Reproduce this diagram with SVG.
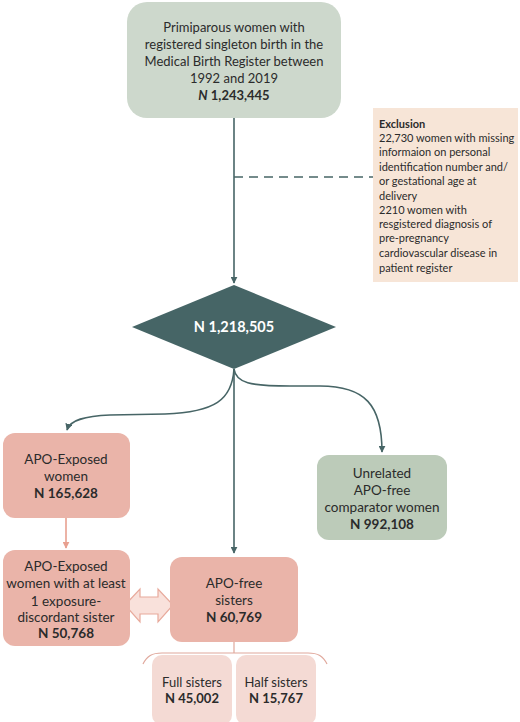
<svg xmlns="http://www.w3.org/2000/svg" width="520" height="722" viewBox="0 0 520 722">
<defs>
<style>
text{font-family:Lato,"Open Sans","Liberation Sans",sans-serif;fill:#2b2b2b;text-anchor:middle}
.b{font-weight:bold}
.t13{font-size:13px}
.t14{font-size:13.5px}
.ex{font-size:11px;text-anchor:start}
.sage{fill:#cdd8cc}
.sage2{fill:#bccbb9}
.salmon{fill:#eab4a9}
.light{fill:#f4dad4}
.conn{fill:none;stroke:#476566;stroke-width:1.6}
</style>
<marker id="ah" viewBox="0 0 10 10" refX="9" refY="5" markerWidth="7" markerHeight="7" orient="auto" markerUnits="userSpaceOnUse">
<path d="M0,0 L10,5 L0,10 z" fill="#476566"/>
</marker>
<marker id="ahs" viewBox="0 0 10 10" refX="9" refY="5" markerWidth="7" markerHeight="7" orient="auto" markerUnits="userSpaceOnUse">
<path d="M0,0 L10,5 L0,10 z" fill="#e8a090"/>
</marker>
</defs>
<rect width="520" height="722" fill="#fff"/>

<g id="connectors">
<path class="conn" d="M234,118 L234,283" marker-end="url(#ah)"/>
<path class="conn" d="M234,177 L373,177" stroke-dasharray="9,6"/>
<path class="conn" d="M234,369 C232,400 215,412 165,414 L110,415 C85,416 70,420 67,430" marker-end="url(#ah)"/>
<path class="conn" d="M234,369 L234,553" marker-end="url(#ah)"/>
<path class="conn" d="M234,369 C236,383 250,386 290,386 L320,386 C365,386 382,405 382,452" marker-end="url(#ah)"/>
<path d="M66,518 L66,548" fill="none" stroke="#e8a090" stroke-width="1.6" marker-end="url(#ahs)"/>
<path d="M125,605 L140,589 L140,597 L158,597 L158,589 L173,605 L158,622 L158,614 L140,614 L140,622 Z" fill="#f9e1db" stroke="#e8aa9c" stroke-width="1.2"/>
<path d="M234,642 L234,653 M143,664 C147,656 152,653 162,653 L308,653 C318,653 323,656 327,664" fill="none" stroke="#e0a89c" stroke-width="1.2"/>
</g>

<g id="n-start">
<rect class="sage" x="127" y="2" width="214" height="116" rx="20"/>
<text class="t13" x="234" y="32">Primiparous women with</text>
<text class="t13" x="234" y="49">registered singleton birth in the</text>
<text class="t13" x="234" y="66">Medical Birth Register between</text>
<text class="t13" x="234" y="83">1992 and 2019</text>
<text class="t13 b" x="234" y="100"><tspan font-style="italic">N</tspan> 1,243,445</text>
</g>

<g id="n-exclusion">
<rect x="373" y="108" width="145" height="174" fill="#f7e5d7"/>
<text class="ex b" x="379" y="128">Exclusion</text>
<text class="ex" x="379" y="142">22,730 women with missing</text>
<text class="ex" x="379" y="156">informaion on personal</text>
<text class="ex" x="379" y="171">identification number and/</text>
<text class="ex" x="379" y="185">or gestational age at</text>
<text class="ex" x="379" y="200">delivery</text>
<text class="ex" x="379" y="214">2210 women with</text>
<text class="ex" x="379" y="228">resgistered diagnosis of</text>
<text class="ex" x="379" y="242">pre-pregnancy</text>
<text class="ex" x="379" y="257">cardiovascular disease in</text>
<text class="ex" x="379" y="272">patient register</text>
</g>

<g id="n-total">
<path d="M234,285 L336,327 L234,369 L132,327 Z" fill="#466566"/>
<text class="b" x="234" y="332" style="fill:#fff;font-size:14.5px">N 1,218,505</text>
</g>

<g id="n-exposed">
<rect class="salmon" x="3" y="433" width="127" height="85" rx="12"/>
<text class="t14" x="66" y="464">APO-Exposed</text>
<text class="t14" x="66" y="481">women</text>
<text class="t14 b" x="66" y="498">N 165,628</text>
</g>

<g id="n-exposed-sister">
<rect class="salmon" x="3" y="550" width="127" height="96" rx="12"/>
<text class="t14" x="66" y="571">APO-Exposed</text>
<text class="t14" x="66" y="588">women with at least</text>
<text class="t14" x="66" y="606">1 exposure-</text>
<text class="t14" x="66" y="622">discordant sister</text>
<text class="t14 b" x="66" y="638">N 50,768</text>
</g>

<g id="n-free-sisters">
<rect class="salmon" x="170" y="557" width="128" height="85" rx="12"/>
<text class="t14" x="234" y="588">APO-free</text>
<text class="t14" x="234" y="605">sisters</text>
<text class="t14 b" x="234" y="622">N 60,769</text>
</g>

<g id="n-unrelated">
<rect class="sage2" x="317" y="455" width="130" height="85" rx="12"/>
<text class="t14" x="382" y="478">Unrelated</text>
<text class="t14" x="382" y="495">APO-free</text>
<text class="t14" x="382" y="512">comparator women</text>
<text class="t14 b" x="382" y="529">N 992,108</text>
</g>

<g id="n-full">
<rect class="light" x="152" y="655" width="80" height="70" rx="10"/>
<text class="t13" x="192" y="687">Full sisters</text>
<text class="t13 b" x="192" y="703">N 45,002</text>
</g>

<g id="n-half">
<rect class="light" x="236" y="655" width="80" height="70" rx="10"/>
<text class="t13" x="276" y="687">Half sisters</text>
<text class="t13 b" x="276" y="703">N 15,767</text>
</g>
</svg>
